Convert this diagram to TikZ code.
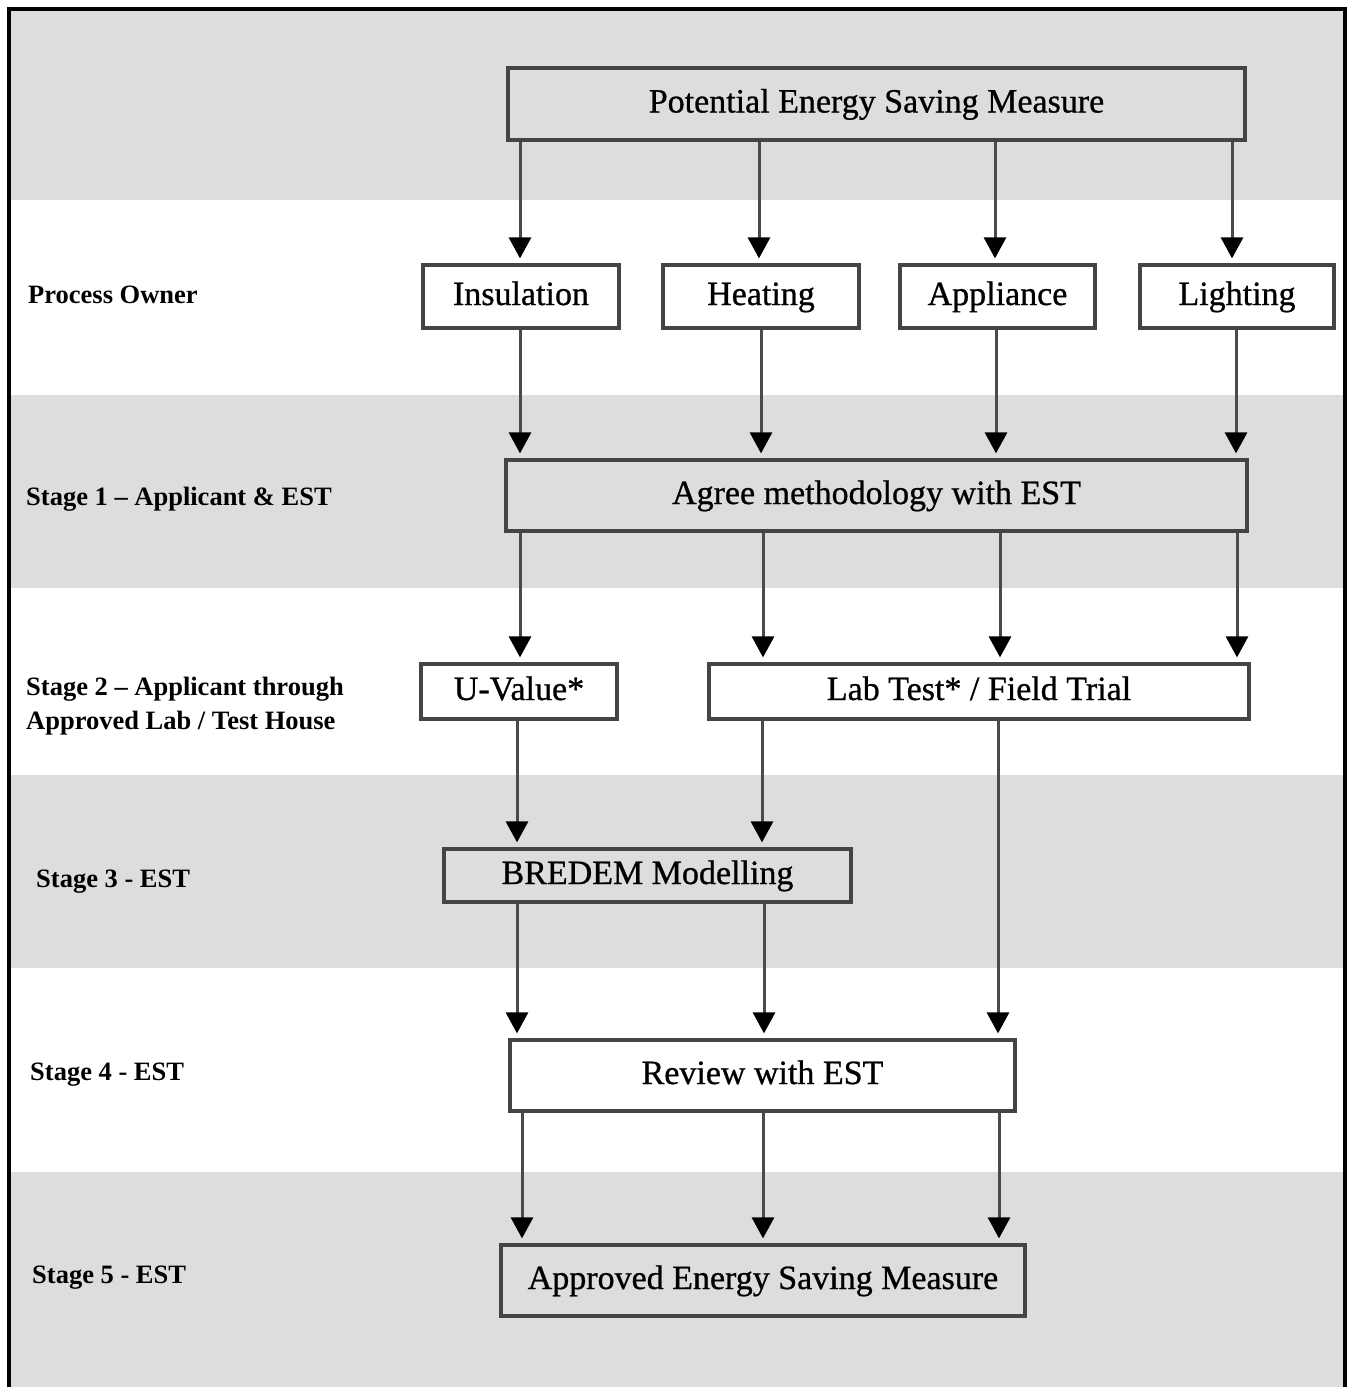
\documentclass[tikz,border=0pt]{standalone}
\usepackage{fontspec}
\setmainfont{Liberation Serif}
\newfontfamily\boxfont[FakeBold=0.8]{Liberation Serif}
\usetikzlibrary{arrows.meta}
\definecolor{band}{HTML}{DDDDDD}
\definecolor{edge}{HTML}{444444}
\definecolor{wire}{HTML}{4A4A4A}
\tikzset{
  boxw/.style={draw=edge, line width=3.2pt, fill=white, inner sep=0pt,
    text height=24pt, text depth=7pt,
    font=\boxfont\fontsize{34}{40}\selectfont},
  boxg/.style={boxw, fill=band},
  lbl/.style={anchor=base west, inner sep=0pt, align=left,
    font=\fontsize{26.5}{34}\selectfont\bfseries},
  arr/.style={draw=wire, line width=3pt, shorten >=5pt,
    -{Triangle[width=22pt,length=21pt,color=black]}}
}
\begin{document}
\begin{tikzpicture}[x=1pt,y=-1pt]
\useasboundingbox (0,0) rectangle (1351,1387);
\fill[white] (0,0) rectangle (1351,1387);
% bands
\fill[band] (10,10) rectangle (1344,200);
\fill[band] (10,395) rectangle (1344,588);
\fill[band] (10,775) rectangle (1344,968);
\fill[band] (10,1172) rectangle (1344,1387);
% frame
\draw[black, line width=3.2pt] (9,1387) -- (9,9) -- (1345,9) -- (1345,1387);

% labels
\node[lbl] (l0) at (28,303) {Process Owner};
\node[lbl] (l1) at (26,505) {Stage 1 -- Applicant \& EST};
\node[lbl] (l2) at (26,729) {Stage 2 -- Applicant through\\Approved Lab / Test House};
\node[lbl] (l3) at (36,887) {Stage 3 - EST};
\node[lbl] (l4) at (30,1080) {Stage 4 - EST};
\node[lbl] (l5) at (32,1283) {Stage 5 - EST};

% boxes
\node[boxg, minimum width=737pt, minimum height=72pt] (P) at (876.5,104) {Potential Energy Saving Measure};
\node[boxw, minimum width=196pt, minimum height=63pt] (I) at (521,296.5) {Insulation};
\node[boxw, minimum width=196pt, minimum height=63pt] (H) at (761,296.5) {Heating};
\node[boxw, minimum width=195pt, minimum height=63pt] (A) at (997.5,296.5) {Appliance};
\node[boxw, minimum width=194pt, minimum height=63pt] (L) at (1237,296.5) {Lighting};
\node[boxg, minimum width=741pt, minimum height=71pt] (G) at (876.5,495.5) {Agree methodology with EST};
\node[boxw, minimum width=196pt, minimum height=55pt] (U) at (519,691.5) {U-Value*};
\node[boxw, minimum width=540pt, minimum height=55pt] (T) at (979,691.5) {Lab Test* / Field Trial};
\node[boxg, minimum width=407pt, minimum height=53pt] (B) at (647.5,875.5) {BREDEM Modelling};
\node[boxw, minimum width=505pt, minimum height=71pt] (R) at (762.5,1075.5) {Review with EST};
\node[boxg, minimum width=524pt, minimum height=71pt] (F) at (763,1280.5) {Approved Energy Saving Measure};

% arrows
\draw[arr] (P.south -| 520,0) -- (I.north -| 520,0);
\draw[arr] (P.south -| 759,0) -- (H.north -| 759,0);
\draw[arr] (P.south -| 995,0) -- (A.north -| 995,0);
\draw[arr] (P.south -| 1232,0) -- (L.north -| 1232,0);

\draw[arr] (I.south -| 520,0) -- (G.north -| 520,0);
\draw[arr] (H.south -| 761,0) -- (G.north -| 761,0);
\draw[arr] (A.south -| 996,0) -- (G.north -| 996,0);
\draw[arr] (L.south -| 1236,0) -- (G.north -| 1236,0);

\draw[arr] (G.south -| 520,0) -- (U.north -| 520,0);
\draw[arr] (G.south -| 763,0) -- (T.north -| 763,0);
\draw[arr] (G.south -| 1000,0) -- (T.north -| 1000,0);
\draw[arr] (G.south -| 1237,0) -- (T.north -| 1237,0);

\draw[arr] (U.south -| 517,0) -- (B.north -| 517,0);
\draw[arr] (T.south -| 762,0) -- (B.north -| 762,0);
\draw[arr] (T.south -| 998,0) -- (R.north -| 998,0);

\draw[arr] (B.south -| 517,0) -- (R.north -| 517,0);
\draw[arr] (B.south -| 764,0) -- (R.north -| 764,0);

\draw[arr] (R.south -| 522,0) -- (F.north -| 522,0);
\draw[arr] (R.south -| 763,0) -- (F.north -| 763,0);
\draw[arr] (R.south -| 999,0) -- (F.north -| 999,0);
\end{tikzpicture}
\end{document}
